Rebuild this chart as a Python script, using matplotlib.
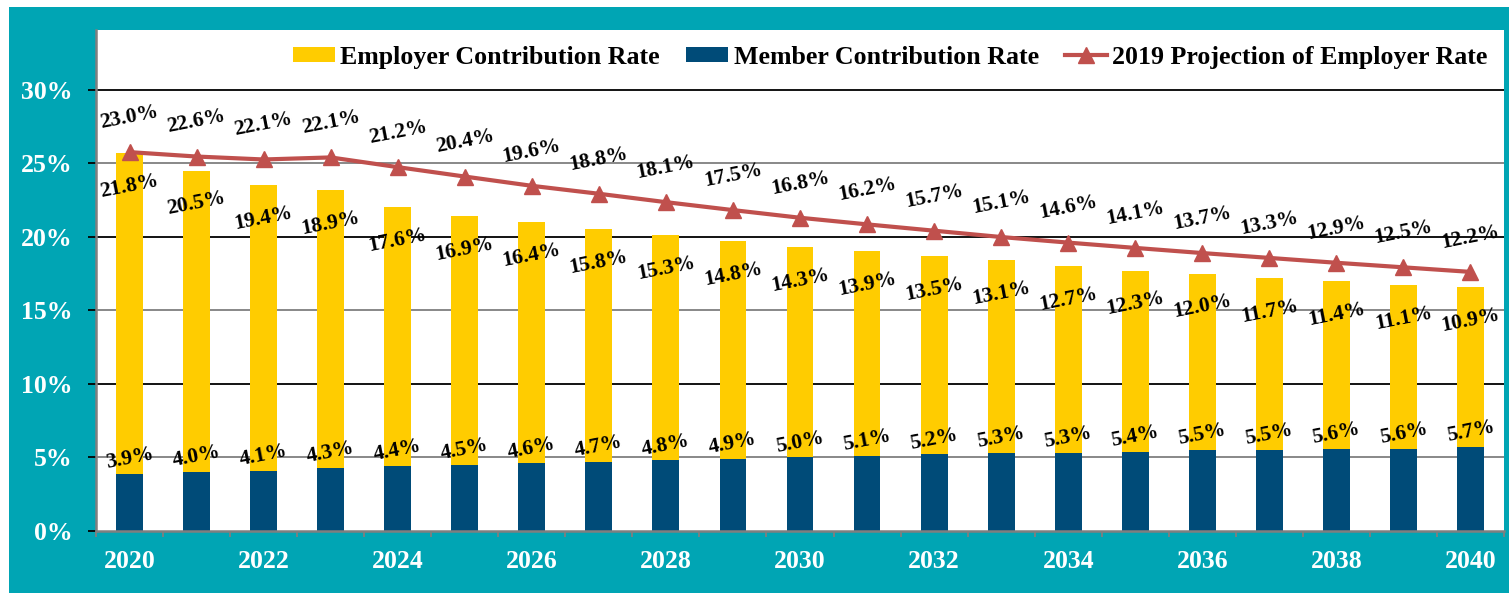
import numpy as np
import matplotlib
matplotlib.use("Agg")
import matplotlib.pyplot as plt
from matplotlib.patches import Rectangle
from matplotlib.lines import Line2D
from matplotlib.patches import Patch

# ---------------- data ----------------
years = list(range(2020, 2041))
employer_rate = [21.8, 20.5, 19.4, 18.9, 17.6, 16.9, 16.4, 15.8, 15.3, 14.8, 14.3,
                 13.9, 13.5, 13.1, 12.7, 12.3, 12.0, 11.7, 11.4, 11.1, 10.9]
member_rate = [3.9, 4.0, 4.1, 4.3, 4.4, 4.5, 4.6, 4.7, 4.8, 4.9, 5.0,
               5.1, 5.2, 5.3, 5.3, 5.4, 5.5, 5.5, 5.6, 5.6, 5.7]
# plotted height of the 2019 projection line
projection_line = [25.75, 25.45, 25.25, 25.39, 24.73, 24.09, 23.46, 22.92, 22.35, 21.81, 21.29,
                   20.84, 20.41, 19.98, 19.60, 19.24, 18.89, 18.56, 18.23, 17.92, 17.61]
# values printed on the projection line
projection_labels = [23.0, 22.6, 22.1, 22.1, 21.2, 20.4, 19.6, 18.8, 18.1, 17.5, 16.8,
                     16.2, 15.7, 15.1, 14.6, 14.1, 13.7, 13.3, 12.9, 12.5, 12.2]
y_ticks = [0, 5, 10, 15, 20, 25, 30]
series_names = ["Employer Contribution Rate", "Member Contribution Rate",
                "2019 Projection of Employer Rate"]

# ---------------- style ----------------
TEAL = "#00A5B4"
YELLOW = "#FFCC00"
NAVY = "#004B78"
RED = "#C0504D"
SERIF = ["Liberation Serif", "DejaVu Serif"]

W, H = 1512, 593
fig = plt.figure(figsize=(W / 100, H / 100), dpi=100, facecolor="white")
bg = Rectangle((9 / W, 0), (1509 - 9) / W, (593 - 7) / H,
               transform=fig.transFigure, facecolor=TEAL, edgecolor="none", zorder=-10)
fig.patches.append(bg)

ax = fig.add_axes([96 / W, (H - 531) / H, (1504 - 96) / W, (531 - 30) / H])
ax.set_zorder(5)
ax.set_facecolor("white")

x = np.arange(len(years))
bw = 0.40
ax.bar(x, member_rate, bw, color=NAVY, zorder=3)
ax.bar(x, employer_rate, bw, bottom=member_rate, color=YELLOW, zorder=3)
ax.plot(x, projection_line, color=RED, lw=3.0, marker="^", markersize=11,
        markeredgecolor=RED, markerfacecolor=RED, zorder=5)

ax.set_xlim(-0.5, len(years) - 0.5)
ax.set_ylim(0, 34.05)

# gridlines
for yv in y_ticks[1:]:
    ax.axhline(yv, color="black" if yv % 10 == 0 else "#7F7F7F", lw=1.3, zorder=1)

# y axis
ax.set_yticks(y_ticks)
ax.set_yticklabels([f"{v}%" for v in y_ticks], color="white", fontsize=18.5,
                   fontweight="bold", family=SERIF)
ax.tick_params(axis="y", length=6, width=1.3, pad=11)
for t, yv in zip(ax.yaxis.get_major_ticks(), y_ticks):
    t.tick1line.set_color("black" if yv % 10 == 0 else "#7F7F7F")

# x axis: labels at even years, tick marks at boundaries
ax.set_xticks(x[::2])
ax.set_xticklabels([str(years[i]) for i in x[::2]], color="white", fontsize=18.5,
                   fontweight="bold", family=SERIF)
ax.tick_params(axis="x", which="major", length=0, pad=14)
ax.set_xticks(np.arange(-0.5, len(years), 1), minor=True)
ax.tick_params(axis="x", which="minor", length=4, width=1.3, color="#7F7F7F")

for side in ["top", "right"]:
    ax.spines[side].set_visible(False)
for side in ["left", "bottom"]:
    ax.spines[side].set_color("#7F7F7F")
    ax.spines[side].set_linewidth(1.8)
    ax.spines[side].set_zorder(6)

# data labels
lab_kw = dict(ha="center", va="center", fontsize=15.5, fontweight="bold",
              family=SERIF, rotation=11, zorder=7, textcoords="offset points")
for i in range(len(years)):
    top = member_rate[i] + employer_rate[i]
    ax.annotate(f"{employer_rate[i]:.1f}%", (x[i], top), xytext=(0, -24), **lab_kw)
    ax.annotate(f"{member_rate[i]:.1f}%", (x[i], member_rate[i]), xytext=(0, 11), **lab_kw)
    ax.annotate(f"{projection_labels[i]:.1f}%", (x[i], projection_line[i]),
                xytext=(0, 25), **lab_kw)

# legend
handles = [Patch(facecolor=YELLOW, edgecolor="none"),
           Patch(facecolor=NAVY, edgecolor="none"),
           Line2D([], [], color=RED, lw=3.0, marker="^", markersize=11)]
leg = ax.legend(handles, series_names, loc="center", bbox_to_anchor=(0.564, 0.946),
                ncol=3, frameon=False, prop={"family": SERIF, "weight": "bold", "size": 18.6},
                handlelength=1.65, handleheight=0.5, handletextpad=0.2,
                columnspacing=1.0, borderaxespad=0)
leg.set_zorder(8)

fig.savefig("out.png", dpi=100, facecolor="white")
